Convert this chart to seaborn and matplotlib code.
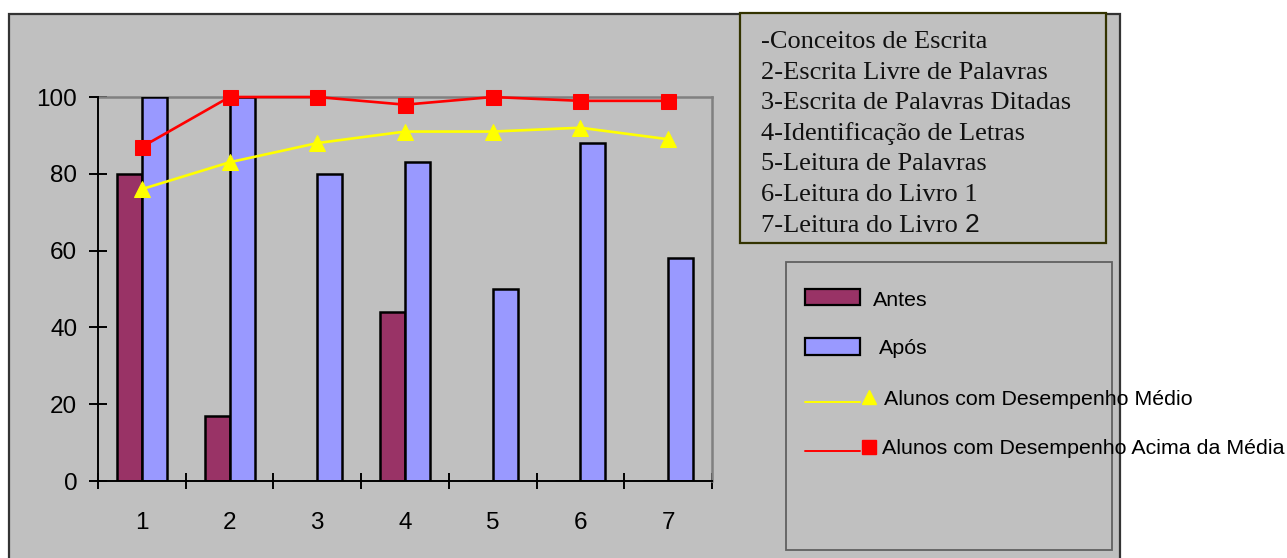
import numpy as np
import pandas as pd
import matplotlib
matplotlib.use("Agg")
import matplotlib.pyplot as plt
import seaborn as sns
from matplotlib.patches import Rectangle
from matplotlib.lines import Line2D

# ---- data -------------------------------------------------------------
categorias = ["1", "2", "3", "4", "5", "6", "7"]
antes = [80, 17, 0, 44, 0, 0, 0]
apos = [100, 100, 80, 83, 50, 88, 58]
desempenho_medio = [76, 83, 88, 91, 91, 92, 89]
desempenho_acima = [87, 100, 100, 98, 100, 99, 99]
y_ticks = [0, 20, 40, 60, 80, 100]

series_barras = ["Antes", "Após"]
series_linhas = ["Alunos com Desempenho Médio",
                 "Alunos com Desempenho Acima da Média"]
descricoes = [
    "-Conceitos de Escrita",
    "2-Escrita Livre de Palavras",
    "3-Escrita de Palavras Ditadas",
    "4-Identificação de Letras",
    "5-Leitura de Palavras",
    "6-Leitura do Livro 1",
    "7-Leitura do Livro ",
]
descricao_final = "2"

# ---- style ------------------------------------------------------------
sns.set_style("white")
plt.rcParams["font.family"] = ["Liberation Sans", "DejaVu Sans"]
plt.rcParams["text.color"] = "black"

COR_ANTES = "#993366"
COR_APOS = "#9999FF"
COR_MEDIO = "#FFFF00"
COR_ACIMA = "#FF0000"
FUNDO = "#C0C0C0"

W, H = 1287, 558
fig = plt.figure(figsize=(W / 100, H / 100), dpi=100, facecolor="white")


def fx(x):
    return x / W


def fy(y):
    return 1 - y / H


def frect(x0, y0, x1, y1, **kw):
    r = Rectangle((fx(x0), fy(y1)), fx(x1) - fx(x0), fy(y0) - fy(y1),
                  transform=fig.transFigure, **kw)
    fig.add_artist(r)
    return r


# chart area
frect(9, 13.5, 1120, 620, facecolor=FUNDO, edgecolor="#333333",
      linewidth=1.6, zorder=-1)

# ---- plot area --------------------------------------------------------
ax = fig.add_axes([fx(98), fy(481), fx(712) - fx(98), fy(97) - fy(481)])
ax.set_facecolor(FUNDO)

df_barras = pd.DataFrame({
    "Item": categorias * 2,
    "Momento": [series_barras[0]] * len(antes) + [series_barras[1]] * len(apos),
    "Percentual": antes + apos,
})
sns.barplot(data=df_barras, x="Item", y="Percentual", hue="Momento",
            order=categorias, hue_order=series_barras,
            palette={series_barras[0]: COR_ANTES, series_barras[1]: COR_APOS},
            width=0.57, gap=0, saturation=1, edgecolor="black",
            linewidth=1.8, legend=False, ax=ax, zorder=2)

df_linhas = pd.DataFrame({
    "pos": np.arange(len(categorias)),
    "medio": desempenho_medio,
    "acima": desempenho_acima,
})
sns.lineplot(data=df_linhas, x="pos", y="medio", color=COR_MEDIO,
             linewidth=1.9, marker="^", markersize=11.5,
             markeredgecolor=COR_MEDIO, clip_on=False, zorder=3, ax=ax)
sns.lineplot(data=df_linhas, x="pos", y="acima", color=COR_ACIMA,
             linewidth=1.9, marker="s", markersize=10.8,
             markeredgecolor=COR_ACIMA, clip_on=False, zorder=4, ax=ax)

ax.set_xlim(-0.5, len(categorias) - 0.5)
ax.set_ylim(0, 100)
ax.set_xlabel("")
ax.set_ylabel("")

ax.set_yticks(y_ticks)
ax.set_yticklabels([str(v) for v in y_ticks])
ax.set_xticks(np.arange(len(categorias)))
ax.set_xticklabels(categorias)
ax.set_xticks(np.arange(-0.5, len(categorias)), minor=True)

ax.tick_params(axis="y", which="major", direction="inout", length=13,
               width=1.4, color="black", pad=8.5, labelsize=17.5,
               labelcolor="black", left=True)
ax.tick_params(axis="x", which="major", length=0, pad=22.5, labelsize=17.5,
               labelcolor="black")
ax.tick_params(axis="x", which="minor", direction="inout", length=11.5,
               width=1.4, color="black", bottom=True)

for lado in ["left", "bottom"]:
    ax.spines[lado].set_color("black")
    ax.spines[lado].set_linewidth(1.4)
    ax.spines[lado].set_zorder(5)
for lado in ["top", "right"]:
    ax.spines[lado].set_color("#808080")
    ax.spines[lado].set_linewidth(1.8)
    ax.spines[lado].set_zorder(1)

# ---- description box --------------------------------------------------
frect(740, 12.5, 1106, 243, facecolor=FUNDO, edgecolor="#333300",
      linewidth=1.6, zorder=2)
linha0, passo = 48, 30.6
ultima = None
for i, txt in enumerate(descricoes):
    ultima = fig.text(fx(761), fy(linha0 + i * passo), txt,
                      family=["Liberation Serif", "DejaVu Serif"],
                      fontsize=19, va="baseline", ha="left",
                      color="#111111", zorder=3)
renderer = fig.canvas.get_renderer()
bb = ultima.get_window_extent(renderer)
fig.text(bb.x1 / W, fy(linha0 + (len(descricoes) - 1) * passo),
         descricao_final, family=["Liberation Sans", "DejaVu Sans"],
         fontsize=19, va="baseline", ha="left", color="#111111", zorder=3)

# ---- legend -----------------------------------------------------------
frect(786, 261.5, 1112, 550, facecolor="none", edgecolor="#606060",
      linewidth=1.3, zorder=2)
frect(805, 289, 860, 305, facecolor=COR_ANTES, edgecolor="black",
      linewidth=1.6, zorder=3)
frect(805, 338, 860, 355, facecolor=COR_APOS, edgecolor="black",
      linewidth=1.6, zorder=3)
fig.add_artist(Line2D([fx(805), fx(860)], [fy(402), fy(402)],
                      transform=fig.transFigure, color=COR_MEDIO,
                      linewidth=1.4, zorder=3))
fig.add_artist(Line2D([fx(868.5)], [fy(397)], transform=fig.transFigure,
                      marker="^", markersize=9.9, color=COR_MEDIO,
                      markeredgecolor=COR_MEDIO, linestyle="none", zorder=3))
fig.add_artist(Line2D([fx(805), fx(860)], [fy(451), fy(451)],
                      transform=fig.transFigure, color=COR_ACIMA,
                      linewidth=1.4, zorder=3))
fig.add_artist(Line2D([fx(868.5)], [fy(446.6)], transform=fig.transFigure,
                      marker="s", markersize=10, color=COR_ACIMA,
                      markeredgecolor=COR_ACIMA, linestyle="none", zorder=3))

rotulos = [(series_barras[0], 873, 306), (series_barras[1], 878.5, 354.5),
           (series_linhas[0], 883.5, 404.6), (series_linhas[1], 882, 453.7)]
for txt, x, y in rotulos:
    fig.text(fx(x), fy(y), txt, fontsize=15.4, va="baseline", ha="left",
             color="black", zorder=4)

fig.savefig("out.png", dpi=100, facecolor="white")
